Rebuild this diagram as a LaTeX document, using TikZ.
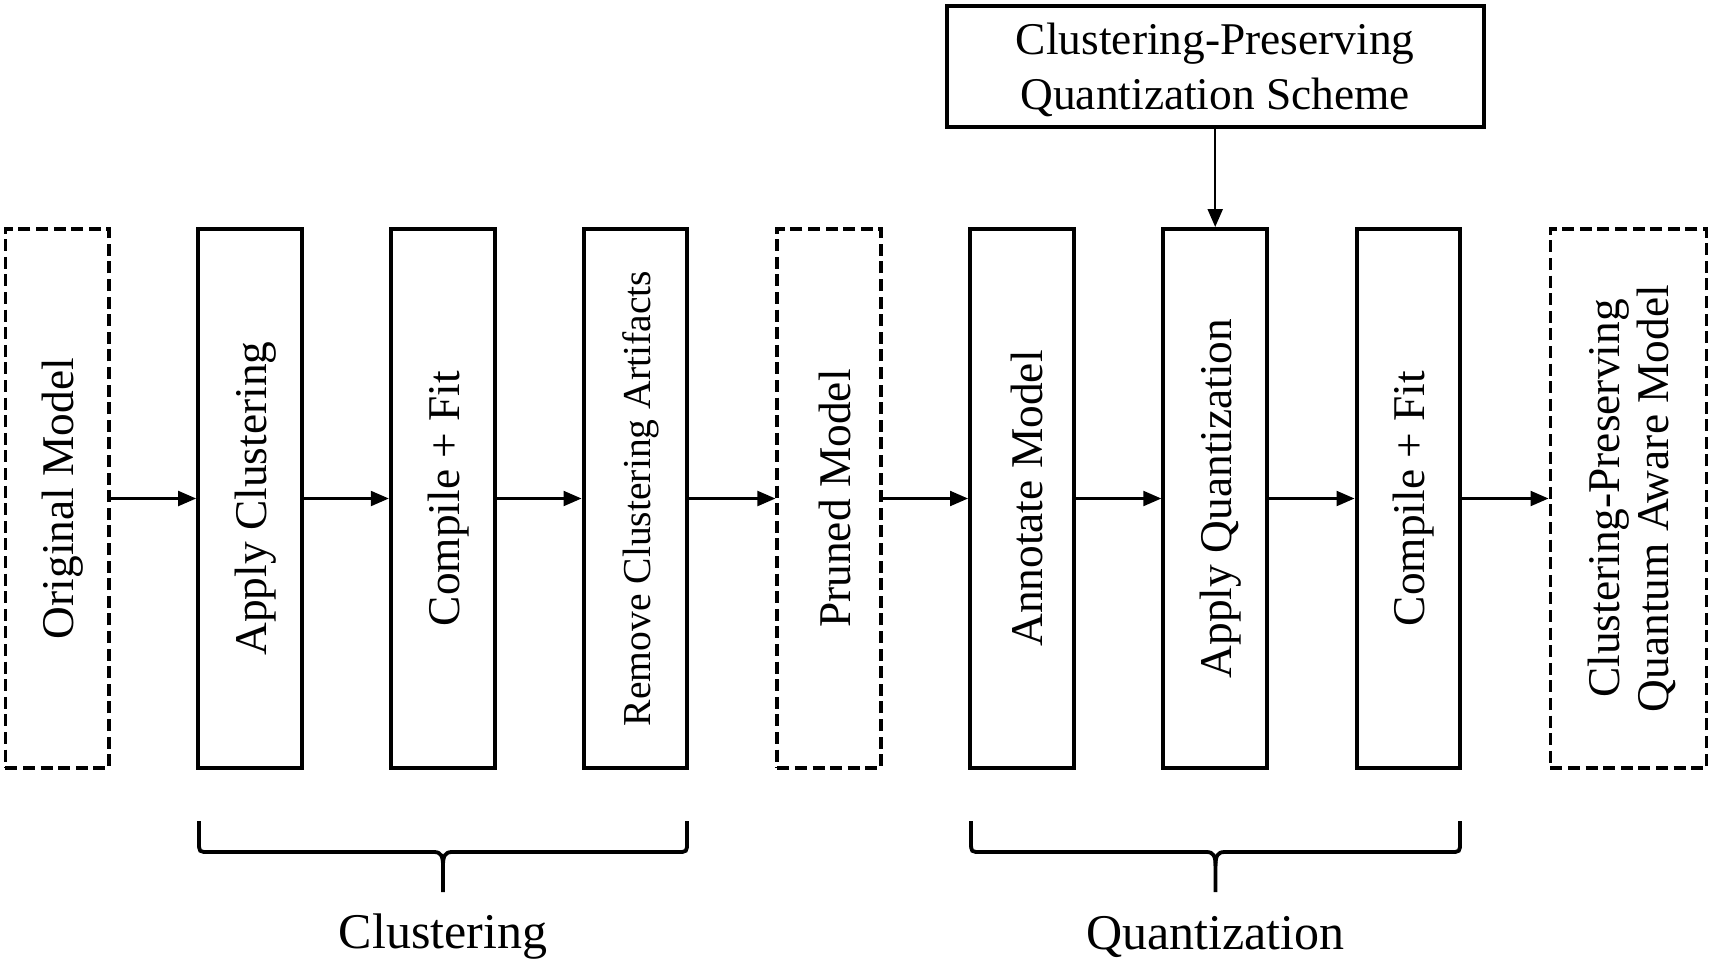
\documentclass[tikz,border=0pt]{standalone}
\usepackage{fontspec}
\setmainfont{Liberation Serif}
\usetikzlibrary{arrows.meta}
\newcommand{\lowtext}[1]{\raisebox{-2.7pt}[\height][\depth]{#1}}
\newcommand{\vtext}[1]{\rotatebox{90}{\lowtext{#1}}}
\tikzset{
  stagebox/.style={draw, line width=2pt, minimum width=51.9pt, minimum height=269.5pt, inner sep=0pt, font=\fontsize{22.7}{26}\selectfont},
  modelbox/.style={stagebox, line width=1.9pt, dash pattern=on 6pt off 2.8pt},
  flow/.style={line width=1.1pt, -{Triangle[length=9pt,width=7.5pt]}},
  brace/.style={line width=1.9pt},
  grouplabel/.style={font=\fontsize{25}{30}\selectfont, inner sep=0pt}
}
\begin{document}
\begin{tikzpicture}[x=0.5pt, y=-0.5pt]
\useasboundingbox (0,0) rectangle (1712,964);
\node[modelbox] (b1) at (57.3,498.5) {\vtext{Original Model}};
\node[stagebox] (b2) at (250.0,498.5) {\vtext{Apply Clustering}};
\node[stagebox] (b3) at (442.7,498.5) {\vtext{Compile + Fit}};
\node[stagebox, font=\fontsize{19.8}{24}\selectfont] (b4) at (635.4,498.5) {\vtext{Remove Clustering Artifacts}};
\node[modelbox] (b5) at (829.2,498.5) {\vtext{Pruned Model}};
\node[stagebox] (b6) at (1021.9,498.5) {\vtext{Annotate Model}};
\node[stagebox] (b7) at (1215.2,498.5) {\vtext{Apply Quantization}};
\node[stagebox] (b8) at (1408.4,498.5) {\vtext{Compile + Fit}};
\node[modelbox, minimum width=78pt] (b9) at (1628.4,498.5) {\vtext{\begin{tabular}{@{}c@{}}Clustering-Preserving\\[-1.5pt]Quantum Aware Model\end{tabular}}};
\node[draw, line width=2pt, minimum width=268.6pt, minimum height=60.5pt, inner sep=0pt, font=\fontsize{22.7}{27.3}\selectfont] (top) at (1215.2,66) {\lowtext{\begin{tabular}{@{}c@{}}Clustering-Preserving\\[0.3pt]Quantization Scheme\end{tabular}}};
\foreach \a/\b in {b1/b2,b2/b3,b3/b4,b4/b5,b5/b6,b6/b7,b7/b8,b8/b9}
  \draw[flow] (\a.east) -- (\b.west);
\draw[flow] (top.south) -- (b7.north);
% braces
\foreach \xl/\xr in {199/687, 971/1460}{
  \pgfmathsetmacro{\xm}{(\xl+\xr)/2}
  \draw[brace] (\xl,821) -- (\xl,842) .. controls (\xl,852) .. (\xl+10,852) -- (\xm-9,852) .. controls (\xm-2,852) and (\xm,856) .. (\xm,866) -- (\xm,892);
  \draw[brace] (\xr,821) -- (\xr,842) .. controls (\xr,852) .. (\xr-10,852) -- (\xm+9,852) .. controls (\xm+2,852) and (\xm,856) .. (\xm,866);
}
\node[grouplabel] (lc) at (443,937) {Clustering};
\node[grouplabel] (lq) at (1215.5,937) {Quantization};
\end{tikzpicture}
\end{document}
